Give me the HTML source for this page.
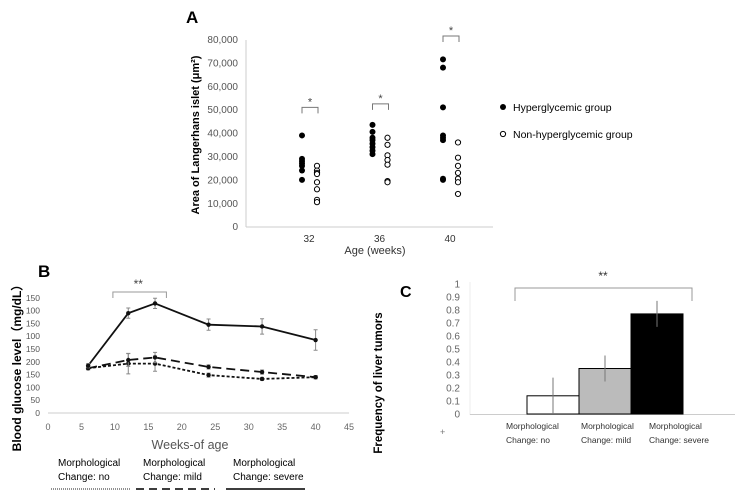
<!DOCTYPE html>
<html><head><meta charset="utf-8"><style>
body{margin:0;background:#fff}
svg{display:block;font-family:"Liberation Sans",sans-serif}
</style></head><body>
<svg id="fig" width="747" height="497" viewBox="0 0 747 497">
<g id="pa"></g>
<g id="pb"></g>
<g id="pc"></g>
</svg>
<script>
// Panel A data
const aWeeks = ["32","36","40"];
const aHyper = [[39000,29000,28000,27000,26000,24000,20000],[43500,40500,38000,37000,35500,34000,32500,31000],[71500,68000,51000,39000,38000,37000,20500,20000]];
const aNon = [[26000,24000,23000,22500,19000,16000,11500,10500],[38000,35000,30500,28500,26500,19500,19000],[36000,29500,26000,23000,20500,19000,14000]];
const aBracketY = [51000,52500,81500];
const aTicks = ["0","10,000","20,000","30,000","40,000","50,000","60,000","70,000","80,000"];
// Panel B data
const bWeeks = [6,12,16,24,32,40];
const bSevere = [185,390,428,345,338,285];
const bSevereErr = [8,20,20,22,30,40];
const bMild = [175,207,217,180,160,140];
const bMildErr = [6,25,20,8,8,6];
const bNo = [175,193,193,148,133,140];
const bNoErr = [6,40,30,8,6,6];
const bXTicks = [0,5,10,15,20,25,30,35,40,45];
const bYTickLabels = ["0","50","100","150","200","150","100","150","100","150"];
// Panel C data
const cCats = [["Morphological","Change: no"],["Morphological","Change: mild"],["Morphological","Change: severe"]];
const cVals = [0.14,0.35,0.77];
const cErr = [0.14,0.1,0.1];
const cTicks = ["0","0.1","0.2","0.3","0.4","0.5","0.6","0.7","0.8","0.9","1"];

const NS="http://www.w3.org/2000/svg";
function mk(p,tag,at,txt){const e=document.createElementNS(NS,tag);for(const k in at)e.setAttribute(k,at[k]);if(txt!==undefined)e.textContent=txt;p.appendChild(e);return e;}

// ---------- Panel A ----------
const pa=document.getElementById('pa');
const ay=v=>226.7-v/80000*187.2;
const ax=i=>309+i*70.5;
let t=mk(pa,'text',{x:186,y:23,'font-size':17,'font-weight':'bold'},'A');


let l=mk(pa,'line',{x1:246,y1:40,x2:246,y2:227,stroke:'#ccc'});


l=mk(pa,'line',{x1:246,y1:227,x2:493,y2:227,stroke:'#ccc'});


aTicks.forEach((s,i)=>{const e=mk(pa,'text',{x:238,y:ay(i*10000)+3.5,'font-size':10,fill:'#555','text-anchor':'end'},s);

});
aWeeks.forEach((w,i)=>{const e=mk(pa,'text',{x:ax(i),y:242,'font-size':10,fill:'#333','text-anchor':'middle'},w);


aHyper[i].forEach(v=>{const c=mk(pa,'circle',{cx:ax(i)-7,cy:ay(v),r:3,fill:'#000'});

});
aNon[i].forEach(v=>{const c=mk(pa,'circle',{cx:ax(i)+8,cy:ay(v),r:2.6,fill:'#fff',stroke:'#000','stroke-width':1});

});
const by=ay(aBracketY[i]);
const b=mk(pa,'path',{d:`M${ax(i)-7},${by+6}V${by}H${ax(i)+9}V${by+6}`,fill:'none',stroke:'#777'});


const s=mk(pa,'text',{x:ax(i)+1,y:by-2,'font-size':11,fill:'#444','text-anchor':'middle'},'*');


});
t=mk(pa,'text',{x:375,y:254,'font-size':11,fill:'#333','text-anchor':'middle'},'Age (weeks)');


t=mk(pa,'text',{transform:'translate(199,135) rotate(-90)','font-size':11,'font-weight':'bold','text-anchor':'middle'},'Area of Langerhans islet (μm²)');


let c=mk(pa,'circle',{cx:503,cy:107,r:3,fill:'#000'});


t=mk(pa,'text',{x:513,y:111,'font-size':10.5},'Hyperglycemic group');


c=mk(pa,'circle',{cx:503,cy:134,r:2.6,fill:'#fff',stroke:'#000'});


t=mk(pa,'text',{x:513,y:138,'font-size':10.5},'Non-hyperglycemic group');



// ---------- Panel B ----------
const pb=document.getElementById('pb');
const bx=v=>48+v*6.69;
const by=v=>413-v*0.256;
t=mk(pb,'text',{x:38,y:277,'font-size':17,'font-weight':'bold'},'B');


l=mk(pb,'line',{x1:bx(0),y1:by(0),x2:bx(45),y2:by(0),stroke:'#ccc'});


bXTicks.forEach(v=>{const e=mk(pb,'text',{x:bx(v),y:430,'font-size':9,fill:'#666','text-anchor':'middle'},String(v));

});
bYTickLabels.forEach((s,i)=>{const e=mk(pb,'text',{x:40,y:by(i*50)+3,'font-size':8.5,fill:'#555','text-anchor':'end'},s);

});
function series(vals,err,dash,name){
 const pts=vals.map((v,i)=>`${bx(bWeeks[i])},${by(v)}`).join(' ');
 const p=mk(pb,'polyline',{points:pts,fill:'none',stroke:'#111','stroke-width':1.8,'stroke-dasharray':dash});
 
 
 vals.forEach((v,i)=>{const x=bx(bWeeks[i]);
  const e=mk(pb,'path',{d:`M${x},${by(v-err[i])}V${by(v+err[i])}M${x-2},${by(v-err[i])}h4M${x-2},${by(v+err[i])}h4`,stroke:'#888','stroke-width':1});
  
  
  const d=mk(pb,'circle',{cx:x,cy:by(v),r:2.2,fill:'#111'});
  
  });
}
series(bNo,bNoErr,'3,2','no-change');
series(bMild,bMildErr,'9,5','mild-change');
series(bSevere,bSevereErr,'','severe-change');
l=mk(pb,'path',{d:`M${bx(9.7)},298V292H${bx(17.7)}V298`,fill:'none',stroke:'#999'});


t=mk(pb,'text',{x:bx(13.5),y:288,'font-size':12,fill:'#444','text-anchor':'middle'},'**');


t=mk(pb,'text',{x:190,y:449,'font-size':12.5,fill:'#555','text-anchor':'middle'},'Weeks-of age');


t=mk(pb,'text',{transform:'translate(21,365) rotate(-90)','font-size':12,'font-weight':'bold','text-anchor':'middle'},'Blood glucose level（mg/dL）');


[[58,'no','1,1'],[143,'mild','8,5'],[233,'severe','']].forEach(([x,n,d])=>{
 const a=mk(pb,'text',{x:x,y:466,'font-size':10},'Morphological');
 
 
 const b=mk(pb,'text',{x:x,y:480,'font-size':10},'Change: '+n);
 
 
 const ln=mk(pb,'line',{x1:x-7,y1:489,x2:x+72,y2:489,stroke:'#222','stroke-width':n==='no'?1:1.8,'stroke-dasharray':d});
 
 
});

// ---------- Panel C ----------
const pc=document.getElementById('pc');
const cy=v=>414-v*130;
const cx=i=>527+i*52;
const labelX=[506,581,649];
t=mk(pc,'text',{x:400,y:297,'font-size':16,'font-weight':'bold'},'C');


l=mk(pc,'line',{x1:470,y1:282,x2:470,y2:415,stroke:'#eee'});


l=mk(pc,'line',{x1:470,y1:414.5,x2:735,y2:414.5,stroke:'#ccc'});


cTicks.forEach((s,i)=>{const e=mk(pc,'text',{x:460,y:cy(i/10)+3.5,'font-size':10,fill:'#666','text-anchor':'end'},s);

});
const fills=['#fff','#bbb','#000'];
cVals.forEach((v,i)=>{
 const r=mk(pc,'rect',{x:cx(i),y:cy(v),width:52,height:cy(0)-cy(v),fill:fills[i],stroke:'#000','stroke-width':1});
 
 
 const x=cx(i)+26;
 const e=mk(pc,'line',{x1:x,y1:cy(v-cErr[i]),x2:x,y2:cy(v+cErr[i]),stroke:'#777'});
 
 
 const a=mk(pc,'text',{x:labelX[i],y:429,'font-size':8.5,fill:'#333'},cCats[i][0]);
 
 
 const b=mk(pc,'text',{x:labelX[i],y:443,'font-size':8.5,fill:'#333'},cCats[i][1]);
 
 
});
l=mk(pc,'path',{d:'M515,301V288H692V301',fill:'none',stroke:'#999'});


t=mk(pc,'text',{x:603,y:280,'font-size':12,fill:'#333','text-anchor':'middle'},'**');


t=mk(pc,'text',{x:440,y:435,'font-size':9,fill:'#777'},'+');


t=mk(pc,'text',{transform:'translate(382,383) rotate(-90)','font-size':11.5,'font-weight':'bold','text-anchor':'middle'},'Frequency of liver tumors');


</script>
</body></html>
